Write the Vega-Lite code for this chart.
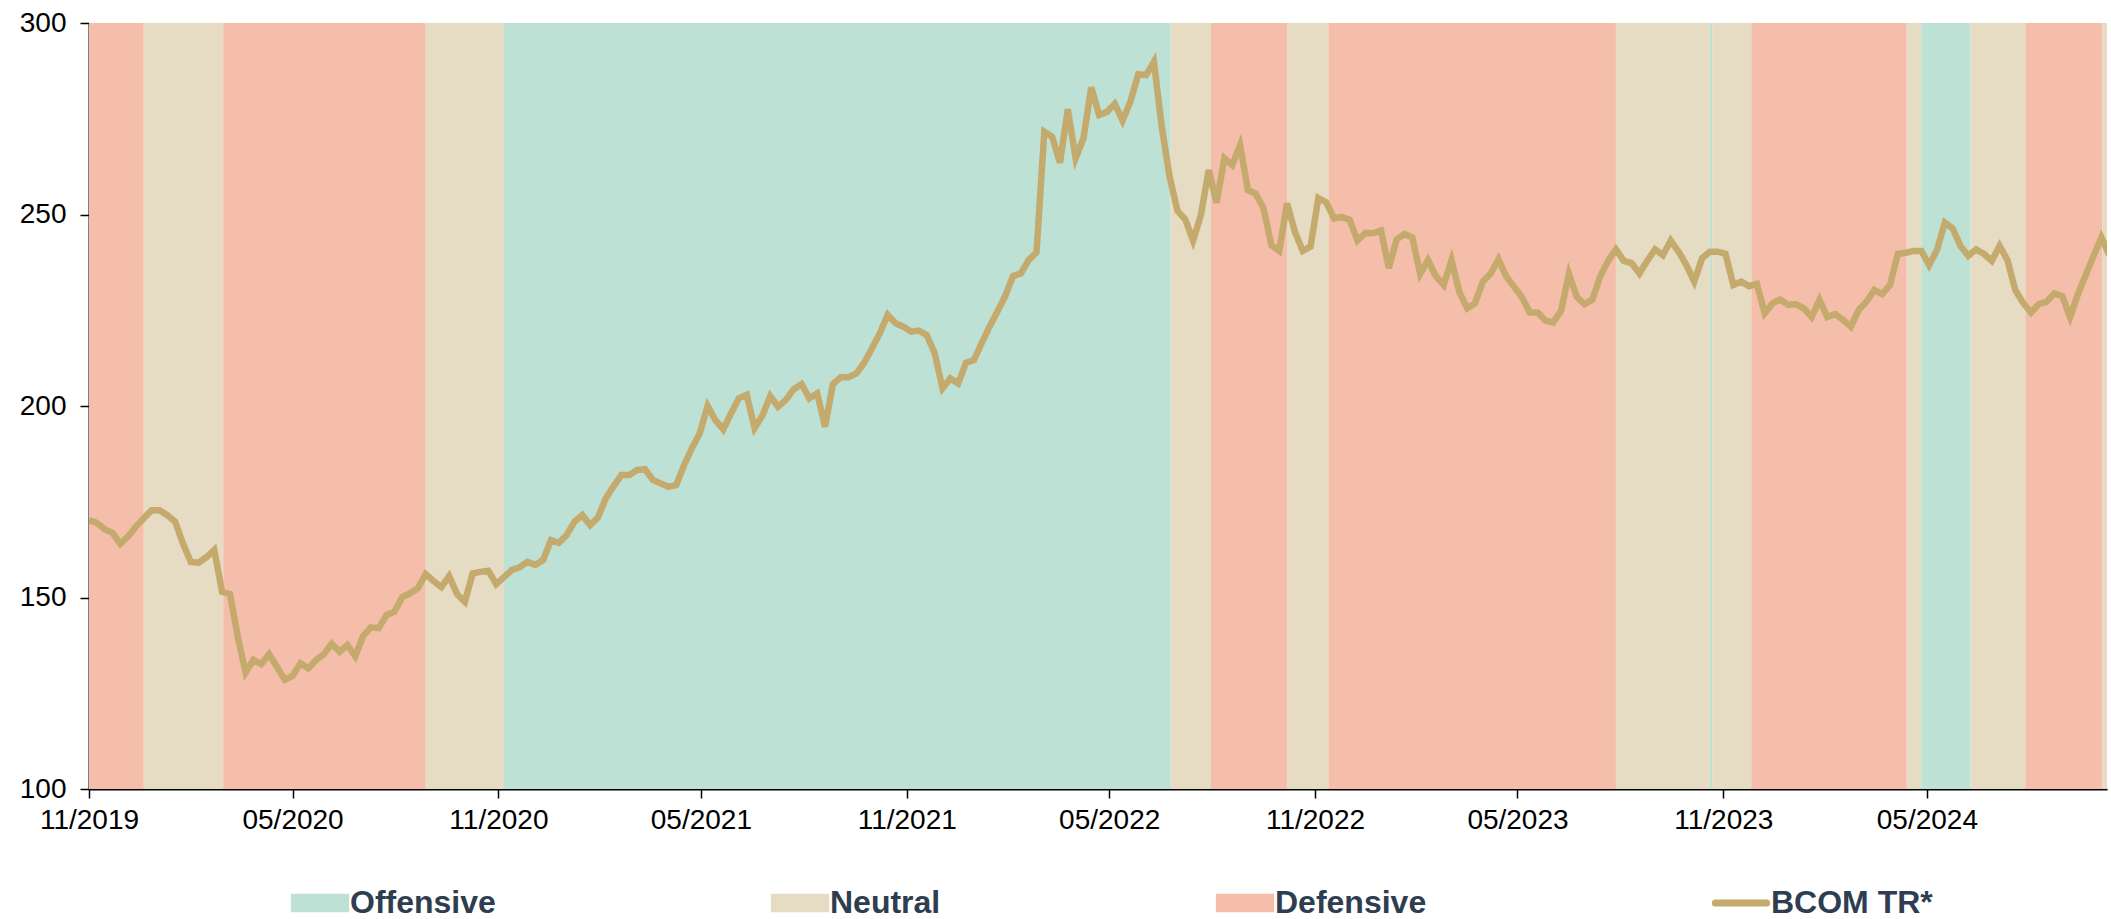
{
  "$schema": "https://vega.github.io/schema/vega-lite/v6.json",
  "width": 2018,
  "height": 766,
  "autosize": {"type": "none"},
  "padding": {"left": 89, "top": 23, "right": 4, "bottom": 130},
  "background": "white",
  "config": {
    "view": {"stroke": null},
    "font": "Liberation Sans",
    "axis": {
      "labelFont": "Liberation Sans",
      "labelFontSize": 28,
      "labelColor": "#000000",
      "domainColor": "#000000",
      "domainWidth": 2,
      "tickColor": "#000000",
      "tickWidth": 1.5,
      "tickSize": 9,
      "grid": false,
      "title": null,
      "zindex": 1
    }
  },
  "datasets": {
    "bands": [
      {"s": "2019-11-01", "e": "2019-12-20", "regime": "Defensive"},
      {"s": "2019-12-20", "e": "2020-02-29", "regime": "Neutral"},
      {"s": "2020-02-29", "e": "2020-08-28", "regime": "Defensive"},
      {"s": "2020-08-28", "e": "2020-11-06", "regime": "Neutral"},
      {"s": "2020-11-06", "e": "2022-06-25", "regime": "Offensive"},
      {"s": "2022-06-25", "e": "2022-07-31", "regime": "Neutral"},
      {"s": "2022-07-31", "e": "2022-10-07", "regime": "Defensive"},
      {"s": "2022-10-07", "e": "2022-11-13", "regime": "Neutral"},
      {"s": "2022-11-13", "e": "2023-07-28", "regime": "Defensive"},
      {"s": "2023-07-28", "e": "2023-10-20", "regime": "Neutral"},
      {"s": "2023-10-20", "e": "2023-10-22", "regime": "Offensive"},
      {"s": "2023-10-22", "e": "2023-11-26", "regime": "Neutral"},
      {"s": "2023-11-26", "e": "2024-04-13", "regime": "Defensive"},
      {"s": "2024-04-13", "e": "2024-04-26", "regime": "Neutral"},
      {"s": "2024-04-26", "e": "2024-06-09", "regime": "Offensive"},
      {"s": "2024-06-09", "e": "2024-07-28", "regime": "Neutral"},
      {"s": "2024-07-28", "e": "2024-10-05", "regime": "Defensive"},
      {"s": "2024-10-05", "e": "2024-10-09", "regime": "Neutral"}
    ],
    "bcom": [
      {"d": "2019-11-01", "v": 170.2}, {"d": "2019-11-08", "v": 169.5}, {"d": "2019-11-15", "v": 167.8}, {"d": "2019-11-22", "v": 166.9}, {"d": "2019-11-29", "v": 164.0},
      {"d": "2019-12-06", "v": 166.0}, {"d": "2019-12-13", "v": 168.5}, {"d": "2019-12-20", "v": 170.7}, {"d": "2019-12-27", "v": 172.8},
      {"d": "2020-01-03", "v": 172.8}, {"d": "2020-01-10", "v": 171.5}, {"d": "2020-01-17", "v": 169.8}, {"d": "2020-01-24", "v": 164.1}, {"d": "2020-01-31", "v": 159.3},
      {"d": "2020-02-07", "v": 159.1}, {"d": "2020-02-14", "v": 160.5}, {"d": "2020-02-21", "v": 162.4}, {"d": "2020-02-28", "v": 151.5},
      {"d": "2020-03-06", "v": 150.9}, {"d": "2020-03-13", "v": 139.8}, {"d": "2020-03-20", "v": 130.4}, {"d": "2020-03-27", "v": 133.7},
      {"d": "2020-04-03", "v": 132.6}, {"d": "2020-04-10", "v": 135.2}, {"d": "2020-04-17", "v": 131.9}, {"d": "2020-04-24", "v": 128.5},
      {"d": "2020-05-01", "v": 129.5}, {"d": "2020-05-08", "v": 132.8}, {"d": "2020-05-15", "v": 131.5}, {"d": "2020-05-22", "v": 133.7}, {"d": "2020-05-29", "v": 135.2},
      {"d": "2020-06-05", "v": 137.9}, {"d": "2020-06-12", "v": 135.8}, {"d": "2020-06-19", "v": 137.6}, {"d": "2020-06-26", "v": 134.7},
      {"d": "2020-07-03", "v": 139.9}, {"d": "2020-07-10", "v": 142.2}, {"d": "2020-07-17", "v": 142.0}, {"d": "2020-07-24", "v": 145.4}, {"d": "2020-07-31", "v": 146.3},
      {"d": "2020-08-07", "v": 150.1}, {"d": "2020-08-14", "v": 151.1}, {"d": "2020-08-21", "v": 152.4}, {"d": "2020-08-28", "v": 156.1},
      {"d": "2020-09-04", "v": 154.3}, {"d": "2020-09-11", "v": 152.7}, {"d": "2020-09-18", "v": 155.6}, {"d": "2020-09-25", "v": 150.9},
      {"d": "2020-10-02", "v": 148.9}, {"d": "2020-10-09", "v": 156.3}, {"d": "2020-10-16", "v": 156.7}, {"d": "2020-10-23", "v": 157.0}, {"d": "2020-10-30", "v": 153.5},
      {"d": "2020-11-06", "v": 155.3}, {"d": "2020-11-13", "v": 157.2}, {"d": "2020-11-20", "v": 157.9}, {"d": "2020-11-27", "v": 159.3},
      {"d": "2020-12-04", "v": 158.5}, {"d": "2020-12-11", "v": 159.8}, {"d": "2020-12-18", "v": 165.0}, {"d": "2020-12-25", "v": 164.3},
      {"d": "2021-01-01", "v": 166.3}, {"d": "2021-01-08", "v": 169.8}, {"d": "2021-01-15", "v": 171.5}, {"d": "2021-01-22", "v": 168.9}, {"d": "2021-01-29", "v": 170.9},
      {"d": "2021-02-05", "v": 175.9}, {"d": "2021-02-12", "v": 179.1}, {"d": "2021-02-19", "v": 182.0}, {"d": "2021-02-26", "v": 182.0},
      {"d": "2021-03-05", "v": 183.3}, {"d": "2021-03-12", "v": 183.5}, {"d": "2021-03-19", "v": 180.7}, {"d": "2021-03-26", "v": 179.8},
      {"d": "2021-04-02", "v": 178.9}, {"d": "2021-04-09", "v": 179.4}, {"d": "2021-04-16", "v": 184.6}, {"d": "2021-04-23", "v": 189.0}, {"d": "2021-04-30", "v": 192.9},
      {"d": "2021-05-07", "v": 200.0}, {"d": "2021-05-14", "v": 196.3}, {"d": "2021-05-21", "v": 193.9}, {"d": "2021-05-28", "v": 198.1},
      {"d": "2021-06-04", "v": 202.0}, {"d": "2021-06-11", "v": 202.9}, {"d": "2021-06-18", "v": 194.2}, {"d": "2021-06-25", "v": 197.5},
      {"d": "2021-07-02", "v": 202.6}, {"d": "2021-07-09", "v": 199.8}, {"d": "2021-07-16", "v": 201.6}, {"d": "2021-07-23", "v": 204.4}, {"d": "2021-07-30", "v": 205.7},
      {"d": "2021-08-06", "v": 202.0}, {"d": "2021-08-13", "v": 203.3}, {"d": "2021-08-20", "v": 194.6}, {"d": "2021-08-27", "v": 205.7},
      {"d": "2021-09-03", "v": 207.5}, {"d": "2021-09-10", "v": 207.5}, {"d": "2021-09-17", "v": 208.5}, {"d": "2021-09-24", "v": 211.3},
      {"d": "2021-10-01", "v": 215.1}, {"d": "2021-10-08", "v": 219.0}, {"d": "2021-10-15", "v": 223.8}, {"d": "2021-10-22", "v": 221.6}, {"d": "2021-10-29", "v": 220.7},
      {"d": "2021-11-05", "v": 219.4}, {"d": "2021-11-12", "v": 219.7}, {"d": "2021-11-19", "v": 218.5}, {"d": "2021-11-26", "v": 213.8},
      {"d": "2021-12-03", "v": 204.6}, {"d": "2021-12-10", "v": 207.2}, {"d": "2021-12-17", "v": 205.9}, {"d": "2021-12-24", "v": 211.3}, {"d": "2021-12-31", "v": 212.0},
      {"d": "2022-01-07", "v": 216.4}, {"d": "2022-01-14", "v": 220.7}, {"d": "2022-01-21", "v": 224.6}, {"d": "2022-01-28", "v": 228.7},
      {"d": "2022-02-04", "v": 233.9}, {"d": "2022-02-11", "v": 234.6}, {"d": "2022-02-18", "v": 238.1}, {"d": "2022-02-25", "v": 240.1},
      {"d": "2022-03-04", "v": 271.6}, {"d": "2022-03-11", "v": 270.3}, {"d": "2022-03-18", "v": 263.5}, {"d": "2022-03-25", "v": 277.5},
      {"d": "2022-04-01", "v": 264.7}, {"d": "2022-04-08", "v": 269.9}, {"d": "2022-04-15", "v": 283.2}, {"d": "2022-04-22", "v": 276.0}, {"d": "2022-04-29", "v": 276.8},
      {"d": "2022-05-06", "v": 278.9}, {"d": "2022-05-13", "v": 274.5}, {"d": "2022-05-20", "v": 279.5}, {"d": "2022-05-27", "v": 286.6},
      {"d": "2022-06-03", "v": 286.4}, {"d": "2022-06-10", "v": 289.9}, {"d": "2022-06-17", "v": 272.9}, {"d": "2022-06-24", "v": 259.9},
      {"d": "2022-07-01", "v": 251.0}, {"d": "2022-07-08", "v": 248.7}, {"d": "2022-07-15", "v": 243.2}, {"d": "2022-07-22", "v": 249.9}, {"d": "2022-07-29", "v": 261.6},
      {"d": "2022-08-05", "v": 253.1}, {"d": "2022-08-12", "v": 264.7}, {"d": "2022-08-19", "v": 262.9}, {"d": "2022-08-26", "v": 268.1},
      {"d": "2022-09-02", "v": 256.4}, {"d": "2022-09-09", "v": 255.4}, {"d": "2022-09-16", "v": 251.6}, {"d": "2022-09-23", "v": 242.0}, {"d": "2022-09-30", "v": 240.5},
      {"d": "2022-10-07", "v": 252.9}, {"d": "2022-10-14", "v": 245.5}, {"d": "2022-10-21", "v": 240.5}, {"d": "2022-10-28", "v": 241.6},
      {"d": "2022-11-04", "v": 254.3}, {"d": "2022-11-11", "v": 253.2}, {"d": "2022-11-18", "v": 249.0}, {"d": "2022-11-25", "v": 249.3},
      {"d": "2022-12-02", "v": 248.6}, {"d": "2022-12-09", "v": 243.2}, {"d": "2022-12-16", "v": 245.2}, {"d": "2022-12-23", "v": 245.1}, {"d": "2022-12-30", "v": 245.8},
      {"d": "2023-01-06", "v": 236.0}, {"d": "2023-01-13", "v": 243.5}, {"d": "2023-01-20", "v": 244.9}, {"d": "2023-01-27", "v": 244.0},
      {"d": "2023-02-03", "v": 234.5}, {"d": "2023-02-10", "v": 238.1}, {"d": "2023-02-17", "v": 233.9}, {"d": "2023-02-24", "v": 231.6},
      {"d": "2023-03-03", "v": 238.1}, {"d": "2023-03-10", "v": 229.8}, {"d": "2023-03-17", "v": 225.5}, {"d": "2023-03-24", "v": 226.8}, {"d": "2023-03-31", "v": 232.5},
      {"d": "2023-04-07", "v": 234.6}, {"d": "2023-04-14", "v": 238.3}, {"d": "2023-04-21", "v": 233.8}, {"d": "2023-04-28", "v": 231.1},
      {"d": "2023-05-05", "v": 228.4}, {"d": "2023-05-12", "v": 224.4}, {"d": "2023-05-19", "v": 224.4}, {"d": "2023-05-26", "v": 222.3},
      {"d": "2023-06-02", "v": 221.8}, {"d": "2023-06-09", "v": 224.9}, {"d": "2023-06-16", "v": 234.5}, {"d": "2023-06-23", "v": 228.5}, {"d": "2023-06-30", "v": 226.6},
      {"d": "2023-07-07", "v": 227.8}, {"d": "2023-07-14", "v": 233.9}, {"d": "2023-07-21", "v": 237.9}, {"d": "2023-07-28", "v": 240.9},
      {"d": "2023-08-04", "v": 237.9}, {"d": "2023-08-11", "v": 237.3}, {"d": "2023-08-18", "v": 234.6}, {"d": "2023-08-25", "v": 237.9},
      {"d": "2023-09-01", "v": 240.9}, {"d": "2023-09-08", "v": 239.4}, {"d": "2023-09-15", "v": 243.2}, {"d": "2023-09-22", "v": 240.3}, {"d": "2023-09-29", "v": 236.8},
      {"d": "2023-10-06", "v": 232.5}, {"d": "2023-10-13", "v": 238.6}, {"d": "2023-10-20", "v": 240.3}, {"d": "2023-10-27", "v": 240.3},
      {"d": "2023-11-03", "v": 239.7}, {"d": "2023-11-10", "v": 231.6}, {"d": "2023-11-17", "v": 232.5}, {"d": "2023-11-24", "v": 231.3},
      {"d": "2023-12-01", "v": 231.9}, {"d": "2023-12-08", "v": 224.2}, {"d": "2023-12-15", "v": 226.8}, {"d": "2023-12-22", "v": 227.8}, {"d": "2023-12-29", "v": 226.4},
      {"d": "2024-01-05", "v": 226.6}, {"d": "2024-01-12", "v": 225.5}, {"d": "2024-01-19", "v": 223.2}, {"d": "2024-01-26", "v": 227.7},
      {"d": "2024-02-02", "v": 223.2}, {"d": "2024-02-09", "v": 224.0}, {"d": "2024-02-16", "v": 222.5}, {"d": "2024-02-23", "v": 220.7},
      {"d": "2024-03-01", "v": 225.1}, {"d": "2024-03-08", "v": 227.2}, {"d": "2024-03-15", "v": 230.3}, {"d": "2024-03-22", "v": 229.2}, {"d": "2024-03-29", "v": 231.6},
      {"d": "2024-04-05", "v": 239.7}, {"d": "2024-04-12", "v": 240.0}, {"d": "2024-04-19", "v": 240.5}, {"d": "2024-04-26", "v": 240.5},
      {"d": "2024-05-03", "v": 236.8}, {"d": "2024-05-10", "v": 240.7}, {"d": "2024-05-17", "v": 247.9}, {"d": "2024-05-24", "v": 246.4}, {"d": "2024-05-31", "v": 241.8},
      {"d": "2024-06-07", "v": 239.2}, {"d": "2024-06-14", "v": 240.9}, {"d": "2024-06-21", "v": 239.7}, {"d": "2024-06-28", "v": 237.9},
      {"d": "2024-07-05", "v": 241.8}, {"d": "2024-07-12", "v": 238.1}, {"d": "2024-07-19", "v": 230.3}, {"d": "2024-07-26", "v": 226.9},
      {"d": "2024-08-02", "v": 224.4}, {"d": "2024-08-09", "v": 226.6}, {"d": "2024-08-16", "v": 227.2}, {"d": "2024-08-23", "v": 229.4}, {"d": "2024-08-30", "v": 228.7},
      {"d": "2024-09-06", "v": 223.2}, {"d": "2024-09-13", "v": 229.2}, {"d": "2024-09-20", "v": 234.2}, {"d": "2024-09-27", "v": 239.2},
      {"d": "2024-10-04", "v": 244.0}, {"d": "2024-10-11", "v": 239.4}
    ]
  },
  "encoding": {
    "x": {
      "type": "temporal",
      "scale": {
        "type": "utc",
        "domain": [
          {"year": 2019, "month": 11, "date": 1, "utc": true},
          {"year": 2024, "month": 10, "date": 9, "utc": true}
        ]
      },
      "axis": {
        "format": "%m/%Y",
        "labelPadding": 8,
        "labelFlush": false,
        "labelOverlap": false,
        "values": [
          {"year": 2019, "month": 11, "date": 1, "utc": true},
          {"year": 2020, "month": 5, "date": 1, "utc": true},
          {"year": 2020, "month": 11, "date": 1, "utc": true},
          {"year": 2021, "month": 5, "date": 1, "utc": true},
          {"year": 2021, "month": 11, "date": 1, "utc": true},
          {"year": 2022, "month": 5, "date": 1, "utc": true},
          {"year": 2022, "month": 11, "date": 1, "utc": true},
          {"year": 2023, "month": 5, "date": 1, "utc": true},
          {"year": 2023, "month": 11, "date": 1, "utc": true},
          {"year": 2024, "month": 5, "date": 1, "utc": true}
        ]
      }
    }
  },
  "layer": [
    {
      "data": {"name": "bands"},
      "mark": {"type": "rect", "strokeWidth": 0},
      "encoding": {
        "x": {"field": "s", "type": "temporal"},
        "x2": {"field": "e"},
        "color": {
          "field": "regime",
          "type": "nominal",
          "scale": {
            "domain": ["Offensive", "Neutral", "Defensive", "BCOM TR*"],
            "range": ["#BEE1D5", "#E6DCC4", "#F5BEAB", "#C4AA6C"]
          },
          "legend": {
            "title": null,
            "orient": "none",
            "direction": "horizontal",
            "legendX": 215,
            "legendY": 864,
            "columnPadding": 274,
            "labelFont": "Liberation Sans",
            "labelFontSize": 32,
            "labelFontWeight": "bold",
            "labelColor": "#2E3D4F",
            "labelOffset": 14,
            "labelLimit": 0,
            "symbolSize": 3400,
            "symbolStrokeWidth": 0,
            "padding": 0,
            "encode": {
              "symbols": {
                "update": {
                  "shape": {"signal": "datum.label === 'BCOM TR*' ? 'M-0.88,0H0.88' : 'M-1,-0.32H1V0.32H-1Z'"},
                  "fill": {"signal": "datum.label === 'Offensive' ? '#BEE1D5' : datum.label === 'Neutral' ? '#E6DCC4' : datum.label === 'Defensive' ? '#F5BEAB' : 'transparent'"},
                  "stroke": {"signal": "datum.label === 'BCOM TR*' ? '#C4AA6C' : 'transparent'"},
                  "strokeWidth": {"signal": "datum.label === 'BCOM TR*' ? 7 : 0"},
                  "strokeCap": {"value": "round"},
                  "opacity": {"value": 1}
                }
              }
            }
          }
        }
      }
    },
    {
      "data": {"name": "bcom"},
      "mark": {"type": "line", "strokeWidth": 6.5, "clip": true},
      "encoding": {
        "x": {"field": "d", "type": "temporal"},
        "y": {
          "field": "v",
          "type": "quantitative",
          "scale": {"domain": [100, 300], "nice": false, "zero": false},
          "axis": {"values": [100, 150, 200, 250, 300], "labelPadding": 14}
        },
        "color": {"datum": "BCOM TR*", "type": "nominal"}
      }
    }
  ]
}
